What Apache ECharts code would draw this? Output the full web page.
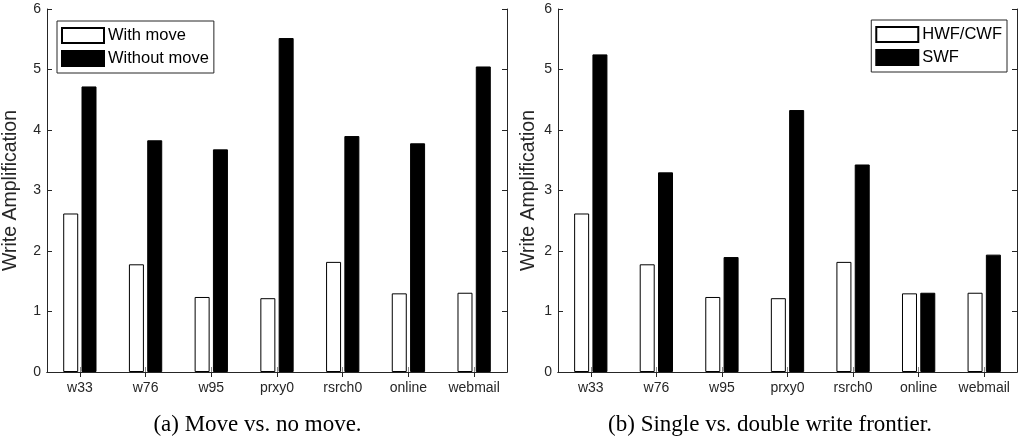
<!DOCTYPE html>
<html>
<head>
<meta charset="utf-8">
<script src="https://cdn.jsdelivr.net/npm/echarts@6/dist/echarts.min.js"></script>
<style>
html,body{margin:0;padding:0;background:#fff;}
#chart{width:1022px;height:447px;}
</style>
</head>
<body>
<div id="chart"></div>
<script>
const categories = ['w33', 'w76', 'w95', 'prxy0', 'rsrch0', 'online', 'webmail'];
const withMove = [2.62, 1.78, 1.24, 1.22, 1.82, 1.30, 1.31];
const withoutMove = [4.72, 3.83, 3.68, 5.52, 3.90, 3.78, 5.05];
const hwfCwf = [2.62, 1.78, 1.24, 1.22, 1.82, 1.30, 1.31];
const swf = [5.25, 3.30, 1.90, 4.33, 3.43, 1.31, 1.94];
const yTicks = { min: 0, max: 6, interval: 1 };
const yLabel = 'Write Amplification';
const captionA = '(a) Move vs. no move.';
const captionB = '(b) Single vs. double write frontier.';

const FONT = '"Liberation Sans", Arial, Helvetica, sans-serif';
const AX = '#262626';

function bottomX(grid) {
  return {
    type: 'category', gridIndex: grid, data: categories, position: 'bottom',
    axisLine: { show: true, lineStyle: { color: AX, width: 1 } },
    axisTick: { show: true, inside: true, alignWithLabel: true, interval: 0, length: 5, lineStyle: { color: '#888' } },
    axisLabel: { show: true, interval: 0, margin: 9, color: AX, fontSize: 14, fontFamily: FONT },
    splitLine: { show: false }
  };
}
function topX(grid) {
  return {
    type: 'category', gridIndex: grid, data: categories, position: 'top',
    axisLine: { show: true, lineStyle: { color: AX, width: 1 } },
    axisTick: { show: true, inside: true, alignWithLabel: true, interval: 0, length: 5, lineStyle: { color: AX } },
    axisLabel: { show: false, interval: 0 }, splitLine: { show: false }
  };
}
function leftY(grid, gap) {
  return {
    type: 'value', gridIndex: grid, position: 'left',
    min: yTicks.min, max: yTicks.max, interval: yTicks.interval,
    name: yLabel, nameLocation: 'middle', nameGap: gap,
    nameTextStyle: { fontSize: 19.5, color: AX, fontFamily: FONT },
    axisLine: { show: true, lineStyle: { color: AX, width: 1 } },
    axisTick: { show: true, inside: true, length: 5, lineStyle: { color: AX } },
    axisLabel: { show: true, margin: 6, color: AX, fontSize: 14, fontFamily: FONT },
    splitLine: { show: false }
  };
}
function rightY(grid) {
  return {
    type: 'value', gridIndex: grid, position: 'right',
    min: yTicks.min, max: yTicks.max, interval: yTicks.interval,
    axisLine: { show: true, lineStyle: { color: AX, width: 1 } },
    axisTick: { show: true, inside: true, length: 5, lineStyle: { color: AX } },
    axisLabel: { show: false }, splitLine: { show: false }
  };
}
function barSeries(name, data, xi, yi, fill) {
  return {
    type: 'bar', name: name, data: data, xAxisIndex: xi, yAxisIndex: yi,
    barWidth: 15, barGap: '22%',
    itemStyle: { color: fill, borderColor: '#000', borderWidth: 1 },
    emphasis: { disabled: true }
  };
}
function legendCfg(names, pos) {
  return Object.assign({
    orient: 'vertical', data: names, icon: 'rect',
    itemWidth: 42, itemHeight: 15, itemGap: 6,
    padding: [6, 5, 6, 4],
    borderColor: AX, borderWidth: 1, backgroundColor: '#fff',
    selectedMode: false,
    textStyle: { fontSize: 16.5, color: '#000', fontFamily: FONT, padding: [0, 0, 0, -1] }
  }, pos);
}

const chart = echarts.init(document.getElementById('chart'), null, { renderer: 'canvas' });
chart.setOption({
  animation: false,
  backgroundColor: '#fff',
  grid: [
    { left: 47, top: 9, width: 460, height: 363 },
    { left: 558, top: 9, width: 459, height: 363 }
  ],
  xAxis: [bottomX(0), topX(0), bottomX(1), topX(1)],
  yAxis: [leftY(0, 26), rightY(0), leftY(1, 19), rightY(1)],
  legend: [
    legendCfg(['With move', 'Without move'], { left: 57, top: 21 }),
    legendCfg(['HWF/CWF', 'SWF'], { right: 15, top: 20 })
  ],
  series: [
    barSeries('With move', withMove, 0, 0, '#fff'),
    barSeries('Without move', withoutMove, 0, 0, '#000'),
    barSeries('HWF/CWF', hwfCwf, 2, 2, '#fff'),
    barSeries('SWF', swf, 2, 2, '#000')
  ],
  graphic: [
    { type: 'text', x: 257.5, y: 425, style: { text: captionA, font: '23px "Liberation Serif", serif', fill: '#000', align: 'center', verticalAlign: 'middle' } },
    { type: 'text', x: 770, y: 425, style: { text: captionB, font: '23px "Liberation Serif", serif', fill: '#000', align: 'center', verticalAlign: 'middle' } }
  ]
});
</script>
</body>
</html>
